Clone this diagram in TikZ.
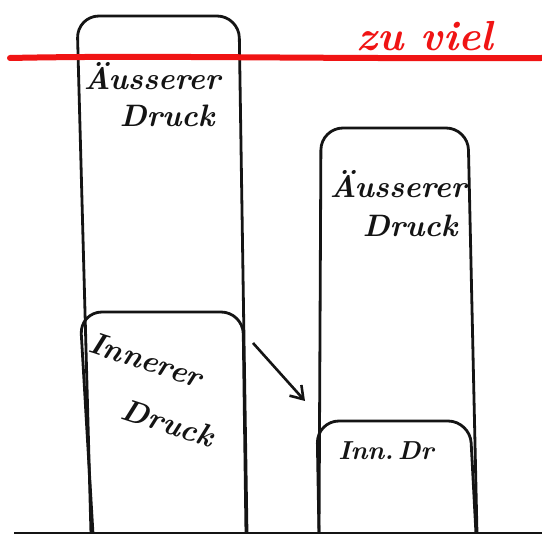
\documentclass[tikz,border=0pt]{standalone}
\usepackage{fontspec}
\usetikzlibrary{arrows.meta}
\definecolor{pen}{RGB}{20,20,20}
\definecolor{redpen}{RGB}{240,20,20}
\tikzset{
  box/.style={draw=pen, line width=2.8pt, rounded corners=22pt, line join=round},
  hand/.style={font=\fontsize{31}{34}\selectfont\bfseries\itshape, text=pen, inner sep=0pt},
  arr/.style={draw=pen, line width=2.6pt, -{Straight Barb[length=12pt,width=16pt,line width=2.6pt]}}
}
\begin{document}
\begin{tikzpicture}[x=1pt,y=-1pt]
\useasboundingbox (0,0) rectangle (542,534);
\fill[white] (0,0) rectangle (542,534);
% ground line
\draw[pen, line width=2.8pt] (14,533) -- (542,533);
% left column
\draw[box] (91,534) -- (77,16) -- (239,16) -- (247,534);
\draw[box] (93,534) -- (80,312) -- (243,312) -- (246,534);
% right column
\draw[box] (319,534) -- (321,128) -- (468,128) -- (477,534);
\draw[box] (319,534) -- (317,421) -- (470,421) -- (476,534);
% red line
\draw[redpen, line width=6pt, line cap=round] (10,58) .. controls (150,55) and (300,59) .. (542,58);
\node[hand, text=redpen, font=\fontsize{42}{44}\selectfont\bfseries\itshape] (zv) at (425,36) {zu viel};
% texts
\node[hand] (a1) at (152,76) {Äusserer};
\node[hand] (d1) at (167,116) {Druck};
\node[hand] (a2) at (398,184) {Äusserer};
\node[hand] (d2) at (410,226) {Druck};
\node[hand, rotate=-18] (i1) at (146,360) {Innerer};
\node[hand, rotate=-18] (i2) at (168,423) {Druck};
\node[hand, font=\fontsize{26}{28}\selectfont\bfseries\itshape] (i3) at (386,451) {Inn.\,Dr};
% arrow
\coordinate (as) at (253,343);
\coordinate (ae) at (305,401);
\draw[arr] (as) -- (ae);
\end{tikzpicture}
\end{document}
